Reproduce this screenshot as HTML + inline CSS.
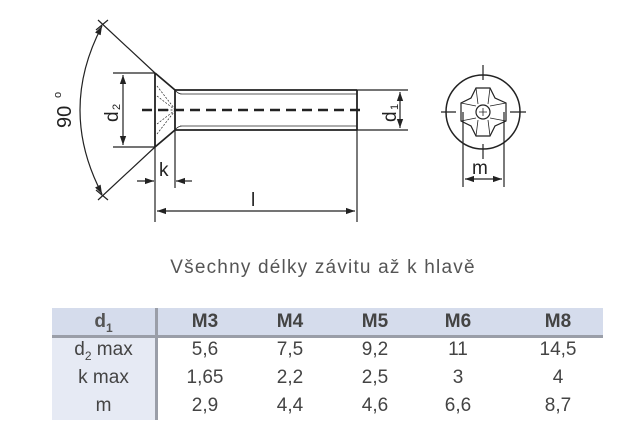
<!DOCTYPE html>
<html><head><style>
body{margin:0;width:630px;height:446px;background:#fff;overflow:hidden;font-family:"Liberation Sans",sans-serif;position:relative}
svg{position:absolute;left:0;top:0}
.t{position:absolute;color:#444;font-size:19px;text-align:center;line-height:22px}
</style></head><body>
<svg width="630" height="446" viewBox="0 0 630 446">
<defs><marker id="a" viewBox="0 0 10 10" refX="10" refY="5" markerWidth="9" markerHeight="9" markerUnits="userSpaceOnUse" orient="auto-start-reverse"><path d="M0,1.5 L10,5 L0,8.5z" fill="#222"/></marker></defs>
<g stroke="#222" fill="none" stroke-width="1.2">
<path d="M155,73 L155,147 M155,73 L175,90 M155,147 L175,130 M175,90 L175,130" stroke-width="1.8"/>
<path d="M157,86 L174,108 M157,96 L174,109 M157,124 L174,111 M157,134 L174,112 M160,110 L174,110" stroke-width="0.7" stroke-dasharray="2,1.5"/>
<path d="M175,90 L357,90 M175,130 L357,130 M357,90 L357,130" stroke-width="1.8"/>
<path d="M180,94 L357,94 M180,126 L357,126 M175,90 Q178,94 182,94 M175,130 Q178,126 182,126" stroke-width="0.8"/>
<path d="M142,110 L362,110" stroke-width="2.6" stroke-dasharray="10,6"/>
<path d="M357,90 L408,90 M357,130 L408,130"/>
<path d="M400,92 L400,128" marker-start="url(#a)" marker-end="url(#a)"/>
<path d="M113,73 L155,73 M113,147 L155,147"/>
<path d="M123,75 L123,145" marker-start="url(#a)" marker-end="url(#a)"/>
<path d="M155,73 L98,20 M155,147 L98,200 M96,30 L108,20 M96,190 L108,200"/>
<path d="M102,26 Q58,110 102,194" marker-start="url(#a)" marker-end="url(#a)"/>
<path d="M155,147 L155,222 M175,130 L175,188"/>
<path d="M137,181 L154,181" marker-end="url(#a)"/>
<path d="M192,181 L176,181" marker-end="url(#a)"/>
<path d="M357,130 L357,222"/>
<path d="M157,211 L355,211" marker-start="url(#a)" marker-end="url(#a)"/>
<circle cx="483" cy="112" r="37" stroke-width="1.5"/>
<path d="M483,65 L483,80 M483,144 L483,159 M441,112 L456,112 M510,112 L526,112"/>
<path d="M476,88 L490,88 L495,98 L506,103 L506,121 L495,126 L490,136 L476,136 L471,126 L461,121 L461,103 L471,98 Z" stroke-width="1.2"/>
<circle cx="483" cy="112" r="7"/>
<path d="M479,112 L487,112 M483,108 L483,116 M476,88 L478,104 M490,88 L488,104 M476,136 L478,120 M490,136 L488,120 M461,103 L476,106 M461,121 L476,118 M506,103 L490,106 M506,121 L490,118" stroke-width="0.8"/>
<path d="M463,112 L463,187 M504,112 L504,187"/>
<path d="M465,179 L502,179" marker-start="url(#a)" marker-end="url(#a)"/>
</g>
<g fill="#222" font-family="Liberation Sans,sans-serif">
<text x="0" y="0" font-size="20" transform="translate(71,128) rotate(-90)">90</text>
<text x="0" y="0" font-size="11" transform="translate(61,98) rotate(-90)">o</text>
<text x="0" y="0" font-size="19" transform="translate(118,122) rotate(-90)">d</text>
<text x="0" y="0" font-size="11" transform="translate(120,110) rotate(-90)">2</text>
<text x="0" y="0" font-size="19" transform="translate(396,122) rotate(-90)">d</text>
<text x="0" y="0" font-size="11" transform="translate(398,110) rotate(-90)">1</text>
<text x="159" y="176" font-size="19">k</text>
<text x="251" y="206" font-size="19">l</text>
<text x="472" y="174" font-size="19">m</text>
</g>
</svg>
<div class="t" style="left:0;width:646px;top:257px;letter-spacing:1.2px;color:#555;font-size:19px">Všechny délky závitu až k hlavě</div>
<div style="position:absolute;left:52px;top:308px;width:551px;height:28px;background:#d5dcec"></div>
<div style="position:absolute;left:52px;top:336px;width:105px;height:84px;background:#e6eaf4"></div>
<div style="position:absolute;left:155px;top:308px;width:3px;height:112px;background:#9a9ea8"></div>
<div style="position:absolute;left:52px;top:335px;width:551px;height:3px;background:#9a9ea8"></div>
<div class="t" style="left:52px;width:103px;top:311px;font-weight:bold;color:#555">d<sub style="font-size:12px">1</sub></div>
<div class="t" style="left:165px;width:80px;top:311px;font-weight:bold">M3</div>
<div class="t" style="left:250px;width:80px;top:311px;font-weight:bold">M4</div>
<div class="t" style="left:335px;width:80px;top:311px;font-weight:bold">M5</div>
<div class="t" style="left:418px;width:80px;top:311px;font-weight:bold">M6</div>
<div class="t" style="left:518px;width:80px;top:311px;font-weight:bold">M8</div>
<div class="t" style="left:52px;width:103px;top:339px">d<sub style="font-size:12px">2</sub> max</div>
<div class="t" style="left:52px;width:103px;top:367px">k max</div>
<div class="t" style="left:52px;width:103px;top:395px">m</div>
<div class="t" style="left:165px;width:80px;top:339px">5,6</div><div class="t" style="left:250px;width:80px;top:339px">7,5</div><div class="t" style="left:335px;width:80px;top:339px">9,2</div><div class="t" style="left:418px;width:80px;top:339px">11</div><div class="t" style="left:518px;width:80px;top:339px">14,5</div>
<div class="t" style="left:165px;width:80px;top:367px">1,65</div><div class="t" style="left:250px;width:80px;top:367px">2,2</div><div class="t" style="left:335px;width:80px;top:367px">2,5</div><div class="t" style="left:418px;width:80px;top:367px">3</div><div class="t" style="left:518px;width:80px;top:367px">4</div>
<div class="t" style="left:165px;width:80px;top:395px">2,9</div><div class="t" style="left:250px;width:80px;top:395px">4,4</div><div class="t" style="left:335px;width:80px;top:395px">4,6</div><div class="t" style="left:418px;width:80px;top:395px">6,6</div><div class="t" style="left:518px;width:80px;top:395px">8,7</div>
</body></html>
